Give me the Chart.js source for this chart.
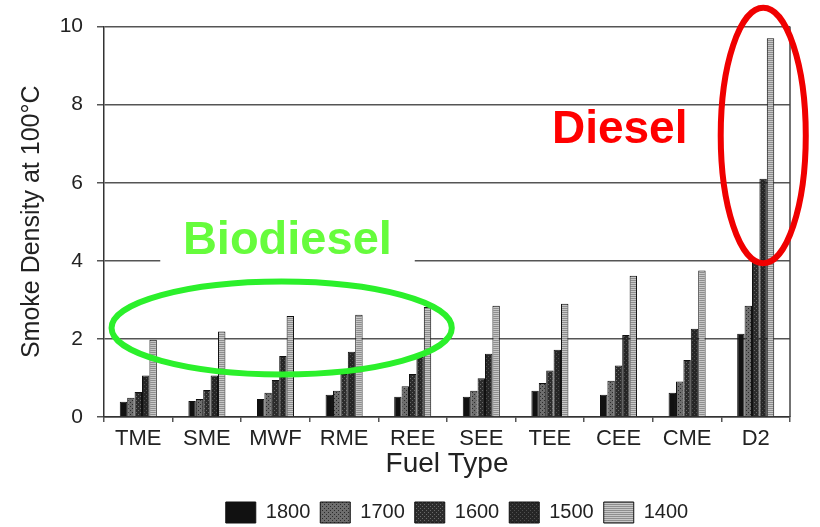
<!DOCTYPE html>
<html>
<head>
<meta charset="utf-8">
<script src="https://cdn.jsdelivr.net/npm/chart.js@4.4.1/dist/chart.umd.min.js"></script>
<style>
  html, body { margin: 0; padding: 0; background: #fff; }
</style>
</head>
<body>
<canvas id="grafico" width="820" height="527"></canvas>
<script>
const fuelTypes = ["TME", "SME", "MWF", "RME", "REE", "SEE", "TEE", "CEE", "CME", "D2"];
const speeds = ["1800", "1700", "1600", "1500", "1400"];
const smoke1800 = [0.39, 0.41, 0.46, 0.57, 0.52, 0.52, 0.67, 0.57, 0.62, 2.13];
const smoke1700 = [0.49, 0.46, 0.62, 0.67, 0.79, 0.67, 0.87, 0.93, 0.91, 2.85];
const smoke1600 = [0.64, 0.69, 0.95, 1.10, 1.10, 0.99, 1.19, 1.32, 1.46, 4.0];
const smoke1500 = [1.06, 1.06, 1.56, 1.67, 1.54, 1.62, 1.72, 2.10, 2.26, 6.1];
const smoke1400 = [1.98, 2.19, 2.59, 2.62, 2.82, 2.85, 2.90, 3.62, 3.75, 9.7];
const yTicks = [0, 2, 4, 6, 8, 10];

// small textures, like the scanned bars
function trama(fondo, punto, lineas) {
  const c = document.createElement("canvas");
  c.width = 4; c.height = 4;
  const g = c.getContext("2d");
  g.fillStyle = fondo;
  g.fillRect(0, 0, 4, 4);
  g.fillStyle = punto;
  if (lineas) {
    g.fillRect(0, 0, 4, 1);
    g.fillRect(0, 2, 4, 1);
  } else {
    g.fillRect(0, 0, 1, 1);
    g.fillRect(2, 2, 1, 1);
  }
  return g.createPattern(c, "repeat");
}

const ctx = document.getElementById("grafico").getContext("2d");

const rellenos = [
  "#111111",
  trama("#6e6e6e", "#2a2a2a"),
  trama("#2c2c2c", "#6a6a6a"),
  trama("#262626", "#505050"),
  trama("#c8c8c8", "#8e8e8e", true)
];
const series = [smoke1800, smoke1700, smoke1600, smoke1500, smoke1400];

// annotation spots in category / value units
const bioTexto = { i: 0.65, v: 4.17 };
const bioCaja = { i0: 0.32, i1: 4.03, v0: 5.4, v1: 3.76 };
const bioElipse = { i: 2.09, v: 2.28, ri: 2.48, rv: 1.19 };
const dieselTexto = { i: 6.03, v: 7.03 };
const dieselElipse = { i: 9.11, v: 7.21, ri: 0.62, rv: 3.27 };

const fuente = "'Liberation Sans', Arial, sans-serif";

const notas = {
  id: "notas",
  afterDraw(chart) {
    const { ctx, chartArea: a, scales: { x, y } } = chart;
    const paso = x.getPixelForValue(1) - x.getPixelForValue(0);
    const px = i => x.getPixelForValue(0) + paso * i;
    const dy = v => Math.abs(y.getPixelForValue(0) - y.getPixelForValue(v));
    ctx.save();

    ctx.strokeStyle = "#444";
    ctx.lineWidth = 1.5;
    ctx.beginPath();
    ctx.moveTo(a.right, a.top);
    ctx.lineTo(a.right, a.bottom);
    ctx.stroke();

    ctx.fillStyle = "#ffffff";
    ctx.fillRect(px(bioCaja.i0), y.getPixelForValue(bioCaja.v0),
      px(bioCaja.i1) - px(bioCaja.i0), y.getPixelForValue(bioCaja.v1) - y.getPixelForValue(bioCaja.v0));

    ctx.font = "bold 47px " + fuente;
    ctx.textBaseline = "alphabetic";
    ctx.textAlign = "left";
    ctx.fillStyle = "#66fc3c";
    ctx.fillText("Biodiesel", px(bioTexto.i), y.getPixelForValue(bioTexto.v));

    ctx.font = "bold 46px " + fuente;
    ctx.fillStyle = "#ff0000";
    ctx.fillText("Diesel", px(dieselTexto.i), y.getPixelForValue(dieselTexto.v));

    ctx.lineWidth = 6;
    ctx.strokeStyle = "#2bf02b";
    ctx.beginPath();
    ctx.ellipse(px(bioElipse.i), y.getPixelForValue(bioElipse.v), paso * bioElipse.ri, dy(bioElipse.rv), 0, 0, Math.PI * 2);
    ctx.stroke();

    ctx.strokeStyle = "#f00000";
    ctx.beginPath();
    ctx.ellipse(px(dieselElipse.i), y.getPixelForValue(dieselElipse.v), paso * dieselElipse.ri, dy(dieselElipse.rv), 0, 0, Math.PI * 2);
    ctx.stroke();

    ctx.restore();
  }
};

// legend sits right of centre in the original
const moverLeyenda = {
  id: "moverLeyenda",
  afterLayout(chart) {
    const l = chart.legend;
    l.left += 62; l.right += 62;
    l.top += 6; l.bottom += 6;
  }
};

const grafico = new Chart(ctx, {
  type: "bar",
  data: {
    labels: fuelTypes,
    datasets: speeds.map((s, k) => ({
      label: s,
      data: series[k],
      backgroundColor: rellenos[k],
      borderColor: "#111",
      borderWidth: 1,
      categoryPercentage: 0.54,
      barPercentage: 1.0
    }))
  },
  options: {
    responsive: false,
    animation: false,
    devicePixelRatio: 1,
    layout: { padding: { left: 0, right: 30, top: 26, bottom: 0 } },
    plugins: {
      tooltip: { enabled: false },
      legend: {
        position: "bottom",
        labels: {
          boxWidth: 30,
          boxHeight: 21,
          padding: 10,
          color: "#222",
          font: { family: fuente, size: 20 }
        }
      }
    },
    scales: {
      x: {
        afterFit: s => { s.height = 69; },
        grid: {
          offset: true,
          drawOnChartArea: false,
          tickLength: 5,
          color: "#555",
          lineWidth: 1.5
        },
        border: { color: "#333", width: 1.5 },
        ticks: {
          color: "#222",
          padding: 4,
          font: { family: fuente, size: 22 }
        },
        title: {
          display: true,
          text: "Fuel Type",
          color: "#222",
          padding: { top: 0, bottom: 5 },
          font: { family: fuente, size: 28 }
        }
      },
      y: {
        min: 0,
        max: 10,
        afterFit: s => { s.width = 104; },
        afterBuildTicks: s => { s.ticks = yTicks.map(v => ({ value: v })); },
        grid: { color: "#555", lineWidth: 1.5, tickLength: 7 },
        border: { color: "#333", width: 1.5 },
        ticks: {
          color: "#222",
          padding: 14,
          font: { family: fuente, size: 21 }
        },
        title: {
          display: true,
          text: "Smoke Density at 100°C",
          color: "#222",
          padding: { top: 17, bottom: 0 },
          font: { family: fuente, size: 25 }
        }
      }
    }
  },
  plugins: [notas, moverLeyenda]
});
</script>
</body>
</html>
